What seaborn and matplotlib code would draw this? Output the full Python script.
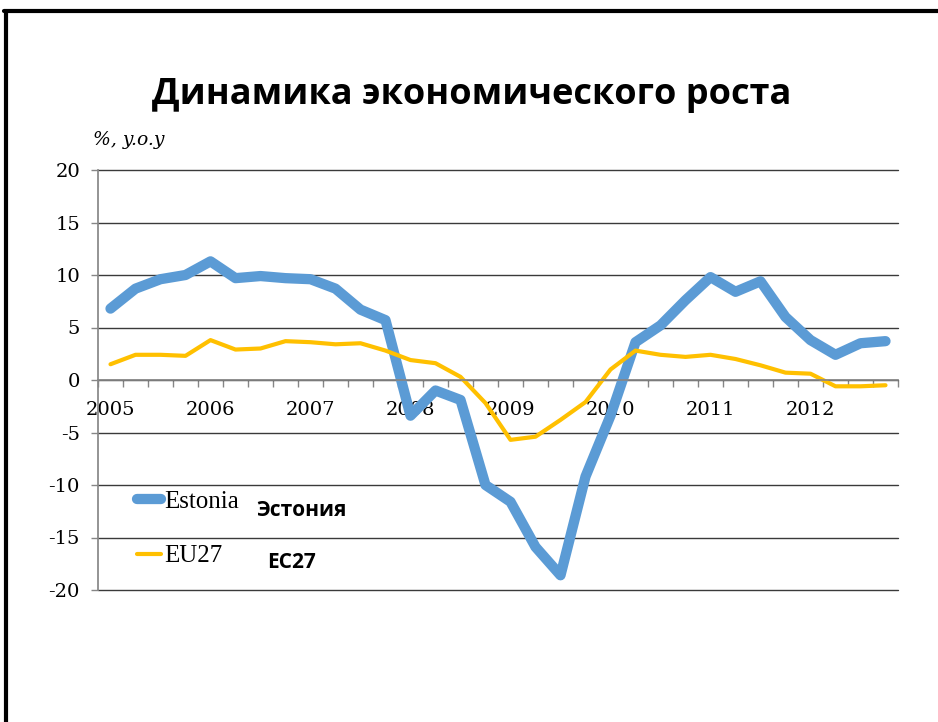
import matplotlib
matplotlib.use('Agg')
import matplotlib.pyplot as plt
import pandas as pd
import seaborn as sns
from matplotlib.lines import Line2D
from matplotlib.ticker import FixedLocator

# quarterly GDP growth, % y.o.y, 2005Q1 .. 2012Q4
years = ['2005', '2006', '2007', '2008', '2009', '2010', '2011', '2012']
estonia = [6.8, 8.7, 9.6, 10.0, 11.3, 9.7, 9.9, 9.7,
           9.6, 8.7, 6.7, 5.7, -3.4, -1.0, -1.9, -10.0,
           -11.6, -15.9, -18.6, -9.2, -3.4, 3.6, 5.2, 7.6,
           9.8, 8.4, 9.4, 6.0, 3.8, 2.4, 3.5, 3.7]
eu27 = [1.5, 2.4, 2.4, 2.3, 3.8, 2.9, 3.0, 3.7,
        3.6, 3.4, 3.5, 2.8, 1.9, 1.6, 0.3, -2.2,
        -5.7, -5.4, -3.8, -2.1, 1.0, 2.8, 2.4, 2.2,
        2.4, 2.0, 1.4, 0.7, 0.6, -0.6, -0.6, -0.5]
series_names = ['Estonia', 'EU27']
series_ru = ['Эстония', 'ЕС27']

n = len(estonia)
df = pd.DataFrame({
    'q': list(range(n)) * 2,
    'value': estonia + eu27,
    'series': ['Estonia'] * n + ['EU27'] * n,
})

sns.set_theme(style='white')
plt.rcParams['font.family'] = ['DejaVu Serif']
plt.rcParams['text.color'] = 'black'
plt.rcParams['xtick.labelcolor'] = 'black'
plt.rcParams['ytick.labelcolor'] = 'black'

fig = plt.figure(figsize=(9.38, 7.22), dpi=100)
ax = fig.add_axes([98 / 938, 1 - 590 / 722, 800 / 938, 420 / 722])

sns.lineplot(data=df, x='q', y='value', hue='series', size='series',
             palette={'Estonia': '#5B9BD5', 'EU27': '#FFC000'},
             sizes={'Estonia': 7.4, 'EU27': 3.0},
             solid_capstyle='round', solid_joinstyle='round', ax=ax)

# x axis sits at zero (this resets the tick objects, so do it first)
for side in ['top', 'right']:
    ax.spines[side].set_visible(False)
ax.spines['left'].set_color('#868686')
ax.spines['bottom'].set_color('#868686')
ax.spines['bottom'].set_position(('data', 0))

ax.set_xlim(-0.5, n - 0.5)
ax.set_ylim(-20, 20)
ax.set_yticks(range(-20, 21, 5))
ax.set_yticklabels([str(v) for v in range(-20, 21, 5)])
ax.set_xticks(range(0, n, 4))
ax.set_xticklabels(years)
ax.xaxis.set_minor_locator(FixedLocator([k - 0.5 for k in range(n + 1)]))
ax.set_xlabel('')
ax.set_ylabel('')

# horizontal grid
ax.yaxis.grid(True, color='#3a3a3a', linewidth=1.0)
ax.xaxis.grid(False)
ax.set_axisbelow(True)
for gl in ax.get_ygridlines():
    gl.set_clip_on(False)

ax.tick_params(axis='y', which='major', left=True, length=5, width=1, color='#868686',
               pad=8, labelsize=14)
ax.tick_params(axis='x', which='major', bottom=True, length=0, pad=15, labelsize=14)
ax.tick_params(axis='x', which='minor', bottom=True, length=5, width=1, color='#868686')

# legend without frame, bottom left
handles, labels = ax.get_legend_handles_labels()
keep = [(h, l) for h, l in zip(handles, labels) if l in series_names]
leg_handles = [Line2D([0], [0], color=h.get_color(), linewidth=h.get_linewidth(),
                      solid_capstyle='round') for h, _ in keep]
ax.legend(leg_handles, [l for _, l in keep], loc='upper left',
          bbox_to_anchor=(137 / 938, 1 - 490 / 722), bbox_transform=fig.transFigure,
          frameon=False, prop={'family': 'Liberation Serif', 'size': 18},
          handlelength=0.95, handletextpad=0.12, labelspacing=1.3,
          borderpad=0, borderaxespad=0)

fig.text(256 / 938, 1 - 511 / 722, series_ru[0], family='Open Sans', weight='bold',
         fontsize=15, ha='left', va='center')
fig.text(267 / 938, 1 - 563 / 722, series_ru[1], family='Open Sans', weight='bold',
         fontsize=15, ha='left', va='center')

fig.text(472 / 938, 1 - 95 / 722, 'Динамика экономического роста', family='Open Sans',
         weight='bold', fontsize=26, ha='center', va='center')
fig.text(93 / 938, 1 - 140 / 722, '%, y.o.y', family='DejaVu Serif', style='italic',
         fontsize=13.5, ha='left', va='center')

# slide border (left and top edges)
fig.add_artist(Line2D([6 / 938, 6 / 938], [0, 1 - 11 / 722], transform=fig.transFigure,
                      color='black', linewidth=3))
fig.add_artist(Line2D([4 / 938, 1], [1 - 11 / 722, 1 - 11 / 722], transform=fig.transFigure,
                      color='black', linewidth=3))

fig.savefig('out.png', dpi=100)
